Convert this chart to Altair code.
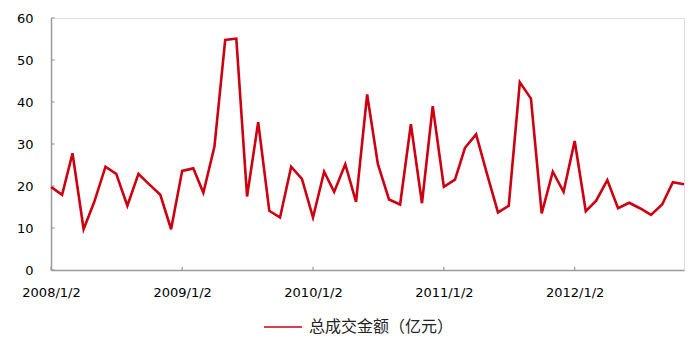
import altair as alt
import pandas as pd

dates = [
    "2008-01-02", "2008-02-02", "2008-03-02", "2008-04-02", "2008-05-02", "2008-06-02",
    "2008-07-02", "2008-08-02", "2008-09-02", "2008-10-02", "2008-11-02", "2008-12-02",
    "2009-01-02", "2009-02-02", "2009-03-02", "2009-04-02", "2009-05-02", "2009-06-02",
    "2009-07-02", "2009-08-02", "2009-09-02", "2009-10-02", "2009-11-02", "2009-12-02",
    "2010-01-02", "2010-02-02", "2010-03-02", "2010-04-02", "2010-05-02", "2010-06-02",
    "2010-07-02", "2010-08-02", "2010-09-02", "2010-10-02", "2010-11-02", "2010-12-02",
    "2011-01-02", "2011-02-02", "2011-03-02", "2011-04-02", "2011-05-02", "2011-06-02",
    "2011-07-02", "2011-08-02", "2011-09-02", "2011-10-02", "2011-11-02", "2011-12-02",
    "2012-01-02", "2012-02-02", "2012-03-02", "2012-04-02", "2012-05-02", "2012-06-02",
    "2012-07-02", "2012-08-02", "2012-09-02", "2012-10-02", "2012-11-02",
]
values = [
    19.8, 17.9, 27.8, 9.7, 16.3, 24.6, 22.9, 15.3, 22.9, 20.4, 17.9, 9.7,
    23.6, 24.2, 18.4, 29.4, 54.8, 55.1, 17.5, 35.2, 14.1, 12.5, 24.6, 21.7,
    12.5, 23.4, 18.6, 25.2, 16.2, 41.8, 25.2, 16.8, 15.6, 34.7, 15.9, 39.0,
    19.8, 21.5, 29.1, 32.3, 23.0, 13.7, 15.3, 44.7, 40.8, 13.5, 23.4, 18.6,
    30.7, 14.0, 16.5, 21.4, 14.7, 16.0, 14.7, 13.1, 15.6, 20.9, 20.4,
]
series_name = "总成交金额（亿元）"
tick_dates = ["2008-01-02", "2009-01-02", "2010-01-02", "2011-01-02", "2012-01-02"]
y_ticks = [0, 10, 20, 30, 40, 50, 60]

df = pd.DataFrame({"date": dates, "value": values, "series": series_name})
xticks_df = pd.DataFrame({"date": tick_dates})
yticks_df = pd.DataFrame({"v": y_ticks, "d0": "2008-01-02", "d1": "2008-01-12"})

x_scale = alt.Scale(type="utc", domain=["2008-01-02", "2012-11-02"])
y_scale = alt.Scale(domain=[0, 60])
axis_color = "#9a9a9a"

x_axis = alt.Axis(values=[alt.DateTime(year=y, month=1, date=2, utc=True) for y in range(2008, 2013)],
                  labelExpr="utcFormat(datum.value, '%Y/%-m/%-d')",
                  ticks=False, tickSize=0, grid=False, domainColor=axis_color,
                  domainWidth=1.5, labelPadding=16, labelFont="DejaVu Sans",
                  labelFontSize=13, labelColor="#000000", labelAngle=0,
                  labelFlush=False, labelOverlap=False, title=None)
y_axis = alt.Axis(values=y_ticks, ticks=False, tickSize=0, grid=False,
                  domainColor=axis_color, domainWidth=1.5, labelPadding=18,
                  labelFont="DejaVu Sans", labelFontSize=13, labelColor="#000000", title=None)

line = alt.Chart(df).mark_line(strokeWidth=2.6).encode(
    x=alt.X("date:T", scale=x_scale, axis=x_axis, title=None),
    y=alt.Y("value:Q", scale=y_scale, axis=y_axis, title=None),
    color=alt.Color("series:N", scale=alt.Scale(range=["#CC0010"]),
                    legend=alt.Legend(title=None, orient="none", legendX=212, legendY=289,
                                      symbolType="stroke", symbolSize=1444,
                                      symbolStrokeWidth=1.6, labelFont="Noto Sans CJK SC",
                                      labelFontSize=16, labelColor="#222222",
                                      labelOffset=6, padding=0)),
)

xt = alt.Chart(xticks_df).mark_rule(color=axis_color, strokeWidth=1.2).encode(
    x=alt.X("date:T", scale=x_scale, axis=x_axis, title=None),
    y=alt.datum(0, scale=y_scale, axis=y_axis, title=None),
    y2=alt.datum(0.8),
)
yt = alt.Chart(yticks_df).mark_rule(color=axis_color, strokeWidth=1.2).encode(
    x=alt.X("d0:T", scale=x_scale, axis=x_axis, title=None),
    x2="d1:T",
    y=alt.Y("v:Q", scale=y_scale, axis=y_axis, title=None),
)

chart = alt.layer(line, xt, yt).properties(
    width=633, height=252,
    padding={"left": 51, "top": 18, "right": 9, "bottom": 75},
    autosize=alt.AutoSizeParams(type="none"),
).configure_view(stroke=None).configure(background="white")

chart.save("out.html", embed_options={"renderer": "svg", "actions": False})
